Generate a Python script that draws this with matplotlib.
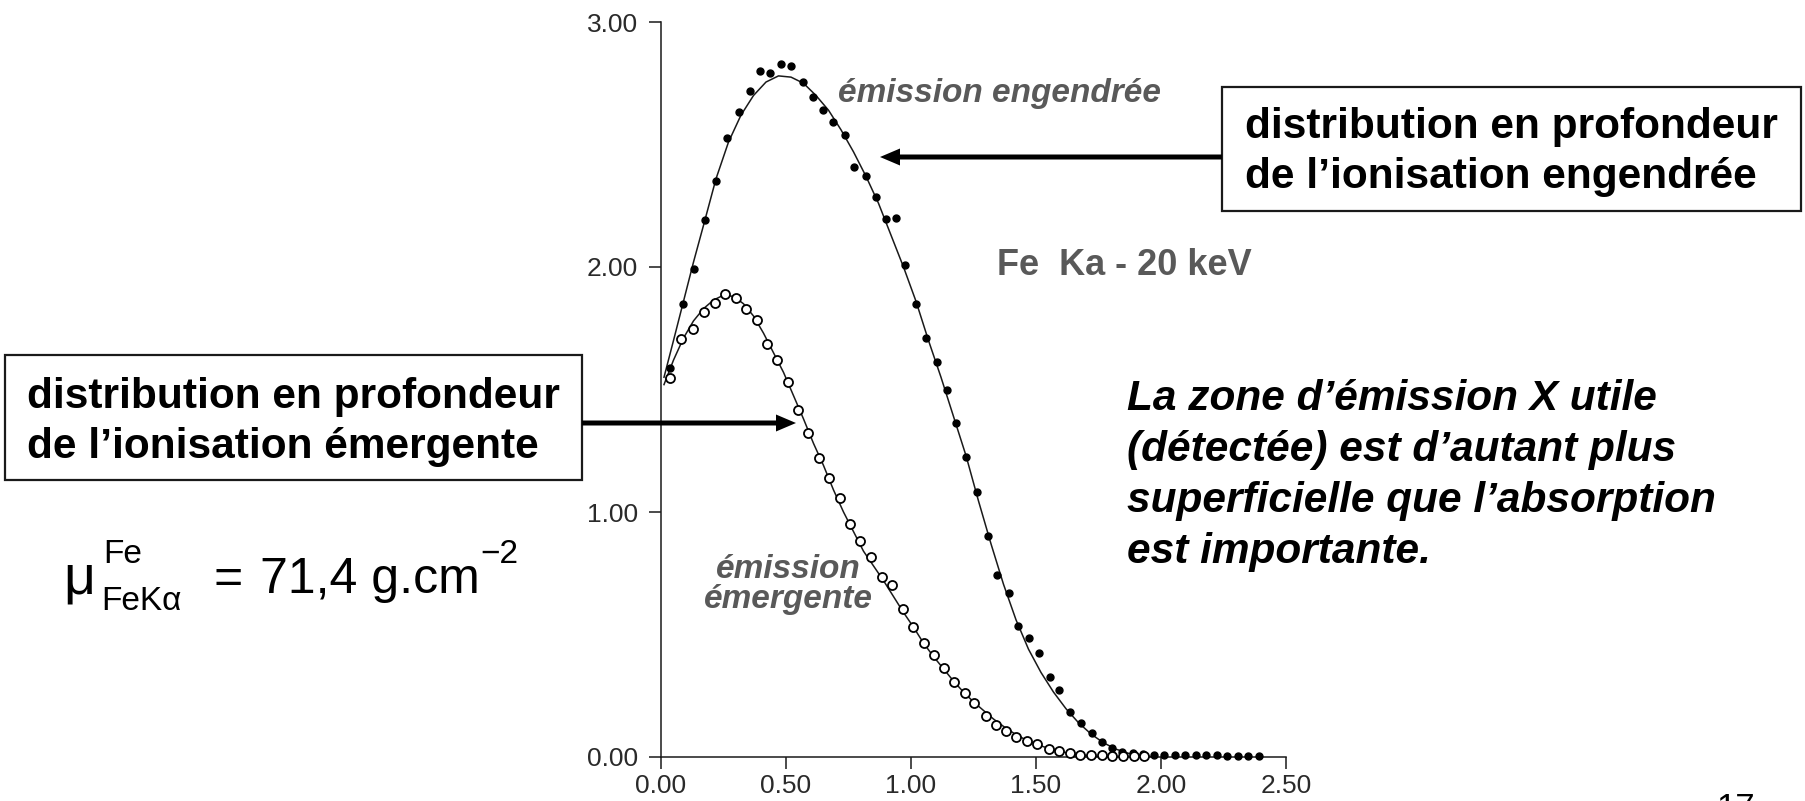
import matplotlib
matplotlib.use("Agg")
import matplotlib.pyplot as plt
from matplotlib.patches import Rectangle, FancyArrow

plt.rcParams['font.family'] = ['Liberation Sans', 'DejaVu Sans']

# Generated emission: measured points (filled) and fitted curve
gen_x = [0.035, 0.088, 0.130, 0.176, 0.219, 0.265, 0.310, 0.354, 0.395, 0.436,
         0.479, 0.520, 0.568, 0.606, 0.647, 0.689, 0.734, 0.773, 0.820, 0.858,
         0.900, 0.941, 0.976, 1.019, 1.061, 1.102, 1.142, 1.180, 1.221, 1.263,
         1.306, 1.344, 1.390, 1.428, 1.471, 1.512, 1.554, 1.593, 1.635, 1.680,
         1.722, 1.762, 1.803, 1.845, 1.887, 1.929, 1.971, 2.013, 2.055, 2.097,
         2.139, 2.181, 2.223, 2.265, 2.307, 2.349, 2.391]
gen_y = [1.587, 1.85, 1.99, 2.19, 2.35, 2.525, 2.634, 2.72, 2.80, 2.79,
         2.83, 2.82, 2.756, 2.695, 2.64, 2.593, 2.54, 2.41, 2.37, 2.284,
         2.196, 2.20, 2.008, 1.85, 1.709, 1.614, 1.498, 1.362, 1.223, 1.083,
         0.904, 0.743, 0.668, 0.535, 0.484, 0.426, 0.328, 0.273, 0.185, 0.137,
         0.097, 0.063, 0.035, 0.022, 0.015, 0.012, 0.010, 0.009, 0.008, 0.008,
         0.007, 0.007, 0.007, 0.006, 0.006, 0.006, 0.006]

gen_fit_x = [0.012, 0.05, 0.09, 0.13, 0.17, 0.22, 0.27, 0.32, 0.37, 0.42,
             0.47, 0.52, 0.57, 0.62, 0.67, 0.72, 0.77, 0.82, 0.87, 0.92,
             0.97, 1.02, 1.07, 1.12, 1.17, 1.22, 1.27, 1.32, 1.37, 1.42,
             1.47, 1.52, 1.57, 1.62, 1.67, 1.72, 1.77, 1.82, 1.87, 1.92, 1.97]
gen_fit_y = [1.55, 1.70, 1.86, 2.02, 2.17, 2.36, 2.51, 2.62, 2.70, 2.755,
             2.78, 2.775, 2.75, 2.70, 2.64, 2.56, 2.47, 2.37, 2.26, 2.13,
             2.00, 1.86, 1.70, 1.55, 1.39, 1.23, 1.045, 0.87, 0.705, 0.56,
             0.44, 0.345, 0.265, 0.197, 0.14, 0.094, 0.058, 0.032, 0.015, 0.006, 0.0]

# Emerging emission: measured points (open) and fitted curve
emg_x = [0.035, 0.081, 0.127, 0.170, 0.214, 0.257, 0.298, 0.341, 0.382, 0.425,
         0.464, 0.506, 0.548, 0.589, 0.632, 0.673, 0.716, 0.754, 0.797, 0.839,
         0.884, 0.923, 0.966, 1.007, 1.050, 1.091, 1.133, 1.172, 1.214, 1.252,
         1.298, 1.339, 1.380, 1.420, 1.465, 1.505, 1.550, 1.593, 1.635, 1.676,
         1.719, 1.762, 1.805, 1.848, 1.890, 1.932]
emg_y = [1.546, 1.705, 1.746, 1.818, 1.852, 1.889, 1.872, 1.827, 1.784, 1.684,
         1.620, 1.532, 1.416, 1.321, 1.219, 1.137, 1.056, 0.952, 0.883, 0.818,
         0.736, 0.702, 0.603, 0.529, 0.464, 0.416, 0.362, 0.307, 0.262, 0.219,
         0.167, 0.131, 0.108, 0.083, 0.067, 0.052, 0.034, 0.024, 0.016, 0.010,
         0.008, 0.007, 0.006, 0.005, 0.005, 0.005]

emg_fit_x = [0.012, 0.05, 0.09, 0.13, 0.17, 0.21, 0.25, 0.29, 0.33, 0.37,
             0.41, 0.45, 0.49, 0.53, 0.57, 0.61, 0.65, 0.69, 0.73, 0.77,
             0.81, 0.85, 0.89, 0.93, 0.97, 1.01, 1.05, 1.09, 1.13, 1.17,
             1.21, 1.25, 1.29, 1.33, 1.37, 1.41, 1.45, 1.49, 1.53, 1.57,
             1.61, 1.65, 1.70, 1.75, 1.80]
emg_fit_y = [1.52, 1.62, 1.71, 1.78, 1.83, 1.865, 1.885, 1.88, 1.85, 1.80,
             1.73, 1.65, 1.57, 1.475, 1.38, 1.28, 1.19, 1.09, 1.00, 0.92,
             0.84, 0.78, 0.72, 0.655, 0.59, 0.53, 0.465, 0.41, 0.36, 0.31,
             0.265, 0.225, 0.19, 0.155, 0.125, 0.098, 0.075, 0.057, 0.042, 0.03,
             0.02, 0.012, 0.006, 0.002, 0.0]

xticks = [0.0, 0.5, 1.0, 1.5, 2.0, 2.5]
xtick_labels = ['0.00', '0.50', '1.00', '1.50', '2.00', '2.50']
yticks = [0.0, 1.0, 2.0, 3.0]
ytick_labels = ['0.00', '1.00', '2.00', '3.00']

W, H = 1805, 801
fig = plt.figure(figsize=(W / 100, H / 100), dpi=100)
fig.patch.set_facecolor('white')

# plot area in pixel units
ax_l, ax_r, ax_b, ax_t = 661, 1286, 757, 22
ax = fig.add_axes([ax_l / W, 1 - ax_b / H, (ax_r - ax_l) / W, (ax_b - ax_t) / H])
ax.set_xlim(0, 2.5)
ax.set_ylim(0, 3)
for side in ('top', 'right'):
    ax.spines[side].set_visible(False)
for side in ('left', 'bottom'):
    ax.spines[side].set_linewidth(1.1)
    ax.spines[side].set_color('#1a1a1a')
ax.set_xticks(xticks, labels=xtick_labels)
ax.set_yticks(yticks, labels=ytick_labels)
ax.tick_params(axis='both', direction='out', length=8.5, width=1.1,
               color='#1a1a1a', labelsize=19, labelcolor='#2a2a2a')
ax.tick_params(axis='y', pad=8)
ax.tick_params(axis='x', pad=4)

ax.plot(gen_fit_x, gen_fit_y, color='#1a1a1a', lw=1.1, clip_on=False)
ax.plot(emg_fit_x, emg_fit_y, color='#1a1a1a', lw=1.1, clip_on=False)
ax.plot(gen_x, gen_y, 'o', ms=5, color='black', clip_on=False, zorder=3)
ax.plot(emg_x, emg_y, 'o', ms=6.5, mfc='white', mec='black', mew=1.3,
        clip_on=False, zorder=3)

# overlay for annotations, in pixel units (origin top-left)
ov = fig.add_axes([0, 0, 1, 1])
ov.set_xlim(0, W)
ov.set_ylim(H, 0)
ov.axis('off')
ov.patch.set_visible(False)

gray = '#595959'
ov.text(838, 102, 'émission engendrée', fontsize=24, fontweight='bold',
        fontstyle='italic', color=gray, va='baseline', ha='left')
ov.text(997, 275, 'Fe  Ka - 20 keV', fontsize=26, fontweight='bold',
        color=gray, va='baseline', ha='left')
ov.text(788, 578, 'émission', fontsize=24, fontweight='bold',
        fontstyle='italic', color=gray, va='baseline', ha='center')
ov.text(788, 608, 'émergente', fontsize=24, fontweight='bold',
        fontstyle='italic', color=gray, va='baseline', ha='center')

# boxed captions
ov.add_patch(Rectangle((1222, 87), 579, 124, fill=False, ec='#1a1a1a', lw=1.6))
ov.text(1245, 138, 'distribution en profondeur', fontsize=30.5,
        fontweight='bold', va='baseline', ha='left')
ov.text(1245, 188, 'de l\u2019ionisation engendrée', fontsize=30.5,
        fontweight='bold', va='baseline', ha='left')

ov.add_patch(Rectangle((5, 355), 577, 125, fill=False, ec='#1a1a1a', lw=1.6))
ov.text(27, 408, 'distribution en profondeur', fontsize=30.5,
        fontweight='bold', va='baseline', ha='left')
ov.text(27, 458, 'de l\u2019ionisation émergente', fontsize=30.5,
        fontweight='bold', va='baseline', ha='left')

# arrows from the boxes to the curves
ov.add_patch(FancyArrow(1222, 157, 880 - 1222, 0, width=5, head_width=17,
                        head_length=20, length_includes_head=True,
                        color='black', lw=0))
ov.add_patch(FancyArrow(582, 423, 796 - 582, 0, width=5, head_width=17,
                        head_length=20, length_includes_head=True,
                        color='black', lw=0))

para = ['La zone d\u2019émission X utile',
        '(détectée) est d\u2019autant plus',
        'superficielle que l\u2019absorption',
        'est importante.']
for i, line in enumerate(para):
    ov.text(1127, 410 + 51 * i, line, fontsize=30.5, fontweight='bold',
            fontstyle='italic', va='baseline', ha='left')

# absorption coefficient
ov.text(63, 593, 'μ', fontsize=40, va='baseline', ha='left')
ov.text(103, 563, 'Fe', fontsize=24, va='baseline', ha='left')
ov.text(101, 610, 'FeKα', fontsize=24, va='baseline', ha='left')
ov.text(214, 593, '=', fontsize=36, va='baseline', ha='left')
ov.text(260, 593, '71,4 g.cm', fontsize=36, va='baseline', ha='left')
ov.text(480, 563, '\u22122', fontsize=24, va='baseline', ha='left')

ov.text(1716, 792, '17', fontsize=25, va='top', ha='left')

fig.savefig('out.png', dpi=100, facecolor='white')
